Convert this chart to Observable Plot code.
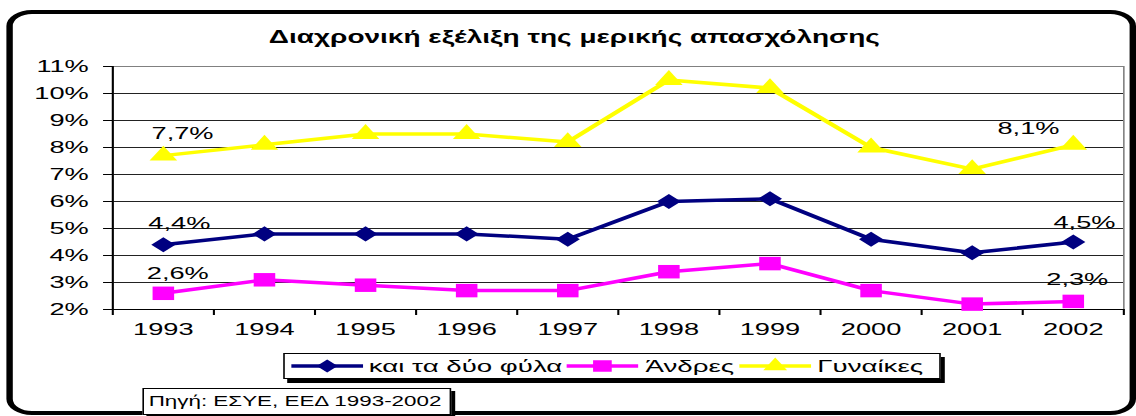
<!DOCTYPE html>
<html>
<head>
<meta charset="utf-8">
<script src="https://cdn.jsdelivr.net/npm/d3@7"></script>
<script src="https://cdn.jsdelivr.net/npm/@observablehq/plot@0.6"></script>
<style>
  body { margin: 0; background: #fff; }
  #wrap {
    position: relative; width: 710px; height: 416px;
    transform: scaleX(1.6); transform-origin: 0 0;
    font-family: "Liberation Sans", Arial, sans-serif; color: #000;
  }
  #frame {
    position: absolute; left: 4.4px; top: 10px; width: 705.6px; height: 405px;
    box-sizing: border-box; border: 4px solid #000; border-radius: 16px;
  }
  #chart { position: absolute; left: 0; top: 0; }
  #title {
    position: absolute; left: 0; width: 718px; top: 29px; text-align: center;
    font-weight: bold; font-size: 17.5px; line-height: 17.5px; white-space: nowrap;
  }
  #legend {
    position: absolute; left: 177px; top: 353px; width: 410.6px; height: 26px;
    box-sizing: border-box; border: 1px solid #000; background: #fff;
    box-shadow: 2.5px 4px 0 #000; display: flex; align-items: center;
    padding-left: 3.5px; font-size: 17.3px; white-space: nowrap;
  }
  #legend .item { display: flex; align-items: center; margin-right: 3px; }
  #legend svg { margin-right: 4px; display: block; }
  #source {
    position: absolute; left: 89.4px; top: 388px; width: 193px; height: 27px;
    box-sizing: border-box; border: 1px solid #000; background: #fff;
    box-shadow: 2.5px 3px 0 #000; font-size: 14px; line-height: 25px;
    padding-left: 2.5px; white-space: nowrap;
  }
</style>
</head>
<body>
<div id="wrap">
  <div id="frame"></div>
  <div id="chart"></div>
  <div id="title"></div>
  <div id="legend"></div>
  <div id="source"></div>
</div>
<script>
// ---- data ----
const titleText = "Διαχρονική εξέλιξη της μερικής απασχόλησης";
const sourceText = "Πηγή: ΕΣΥΕ, ΕΕΔ 1993-2002";
const years = [1993, 1994, 1995, 1996, 1997, 1998, 1999, 2000, 2001, 2002];
const total = [4.4, 4.8, 4.8, 4.8, 4.6, 6.0, 6.1, 4.6, 4.1, 4.5];
const men   = [2.6, 3.1, 2.9, 2.7, 2.7, 3.4, 3.7, 2.7, 2.2, 2.3];
const women = [7.7, 8.1, 8.5, 8.5, 8.2, 10.5, 10.2, 8.0, 7.2, 8.1];
const seriesNames = ["και τα δύο φύλα", "Άνδρες", "Γυναίκες"];
const yTicks = [2, 3, 4, 5, 6, 7, 8, 9, 10, 11];

// ---- build ----
const rows = years.map((year, i) => ({year, total: total[i], men: men[i], women: women[i]}));
const colors = ["#000080", "#FF00FF", "#FFFF00"];
const symbols = ["diamond2", "square", "triangle"];
const radii = [6.8, 7.6, 6.4];
const keys = ["total", "men", "women"];
const pct = v => d3.format(".1f")(v).replace(".", ",") + "%";
const xBounds = years.map(y => y - 0.5).concat([years[years.length - 1] + 0.5]);
const first = rows.slice(0, 1);
const last = rows.slice(-1);

const marks = [
  Plot.gridY(yTicks, {stroke: "#222", strokeOpacity: 1, strokeWidth: 1}),
  Plot.frame({stroke: "#808080", strokeWidth: 1}),
  Plot.ruleY([yTicks[0]], {stroke: "#000", strokeWidth: 1.2}),
  Plot.ruleX([xBounds[0]], {stroke: "#000", strokeWidth: 1.3}),
  Plot.axisY(yTicks, {tickFormat: d => d + "%", tickSize: 5.6, tickPadding: 9.4, fontSize: 17, label: null, stroke: "#000"}),
  Plot.axisX(xBounds, {tickSize: 6, tickFormat: () => "", label: null, stroke: "#000", strokeWidth: 1.3}),
  Plot.axisX(years, {tickSize: 0, tickPadding: 13, tickFormat: d => String(d), fontSize: 17, label: null})
];
keys.forEach((k, i) => {
  marks.push(Plot.line(rows, {x: "year", y: k, stroke: colors[i], strokeWidth: 3.5}));
  marks.push(Plot.dot(rows, {x: "year", y: k, symbol: symbols[i], r: radii[i], fill: colors[i], stroke: "none"}));
});
// data labels at first and last year
marks.push(Plot.text(first, {x: "year", y: "women", text: d => pct(d.women), dx: 12, dy: -22, fontSize: 17}));
marks.push(Plot.text(last,  {x: "year", y: "women", text: d => pct(d.women), dx: -28, dy: -16, fontSize: 17}));
marks.push(Plot.text(first, {x: "year", y: "total", text: d => pct(d.total), dx: 10, dy: -21, fontSize: 17}));
marks.push(Plot.text(last,  {x: "year", y: "total", text: d => pct(d.total), dx: 7, dy: -19, fontSize: 17}));
marks.push(Plot.text(first, {x: "year", y: "men", text: d => pct(d.men), dx: 9, dy: -20, fontSize: 17}));
marks.push(Plot.text(last,  {x: "year", y: "men", text: d => pct(d.men), dx: 2.5, dy: -22, fontSize: 17}));

const chart = Plot.plot({
  width: 710, height: 345,
  marginLeft: 70, marginRight: 8.1, marginTop: 66, marginBottom: 36,
  x: {type: "linear", domain: [xBounds[0], xBounds[xBounds.length - 1]]},
  y: {type: "linear", domain: [yTicks[0], yTicks[yTicks.length - 1]]},
  style: {fontFamily: '"Liberation Sans", Arial, sans-serif', fontSize: "17px", background: "transparent", color: "#000", overflow: "visible"},
  marks
});
document.getElementById("chart").appendChild(chart);
document.getElementById("title").textContent = titleText;
document.getElementById("source").textContent = sourceText;

// legend
const legend = document.getElementById("legend");
seriesNames.forEach((name, i) => {
  const item = document.createElement("div");
  item.className = "item";
  const sw = d3.create("svg").attr("width", 45).attr("height", 20);
  sw.append("line").attr("x1", 0).attr("x2", 45).attr("y1", 10).attr("y2", 10)
    .attr("stroke", colors[i]).attr("stroke-width", 3.5);
  const symType = {diamond2: d3.symbolDiamond2, square: d3.symbolSquare, triangle: d3.symbolTriangle}[symbols[i]];
  sw.append("path").attr("transform", "translate(22.5,10)")
    .attr("d", d3.symbol(symType, Math.PI * radii[i] * radii[i] * 0.75)())
    .attr("fill", colors[i]);
  item.appendChild(sw.node());
  const label = document.createElement("span");
  label.textContent = name;
  item.appendChild(label);
  legend.appendChild(item);
});
</script>
</body>
</html>
